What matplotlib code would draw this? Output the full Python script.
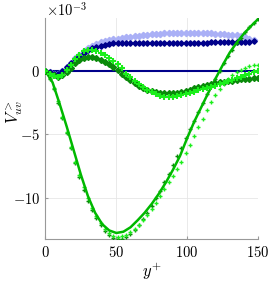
import matplotlib

matplotlib.use("Agg")
import matplotlib.pyplot as plt

plt.rcParams["font.family"] = "serif"
plt.rcParams["font.serif"] = ["cmr10", "DejaVu Serif"]
plt.rcParams["mathtext.fontset"] = "cm"
plt.rcParams["axes.unicode_minus"] = False
plt.rcParams["axes.formatter.use_mathtext"] = True

# values are in units of 1e-3
yp_blue = [0, 3, 6, 9, 12, 15, 18, 21, 24, 27, 30, 33, 36, 39, 42, 45, 48, 51, 54, 57,
           60, 63, 66, 69, 72, 75, 78, 81, 84, 87, 90, 93, 96, 99, 102, 105, 108, 111, 114, 117,
           120, 123, 126, 129, 132, 135, 138, 141, 144, 147]
yp = yp_blue + [150]
yp_line = [0, 5, 10, 15, 20, 25, 30, 35, 40, 45, 50, 55, 60, 65, 70, 75, 80, 85, 90, 95,
           100, 105, 110, 115, 120, 125, 130, 135, 140, 145, 150]

zero_x = [0, 150]
zero_v = [0, 0]

light_blue = [0, -0.1, -0.2, -0.2, 0.0, 0.3, 0.65, 1.0, 1.3, 1.58,
              1.8, 1.98, 2.13, 2.26, 2.36, 2.45, 2.52, 2.57, 2.63, 2.68,
              2.72, 2.77, 2.81, 2.85, 2.88, 2.9, 2.93, 2.96, 2.98, 2.99,
              3.0, 3.01, 3.02, 3.02, 3.01, 3.0, 3.0, 2.99, 2.98, 2.97,
              2.95, 2.92, 2.9, 2.88, 2.85, 2.82, 2.76, 2.68, 2.55, 2.42]
navy = [0, -0.1, -0.2, -0.2, 0.0, 0.3, 0.6, 0.95, 1.22, 1.45,
        1.65, 1.8, 1.93, 2.02, 2.08, 2.14, 2.18, 2.2, 2.22, 2.23,
        2.24, 2.25, 2.25, 2.25, 2.25, 2.25, 2.25, 2.25, 2.25, 2.25,
        2.25, 2.25, 2.25, 2.25, 2.25, 2.25, 2.25, 2.25, 2.25, 2.26,
        2.26, 2.27, 2.27, 2.28, 2.29, 2.3, 2.31, 2.32, 2.33, 2.34]

up_dark = [0, -0.2, -0.35, -0.45, -0.35, -0.1, 0.25, 0.6, 0.88, 1.05,
           1.12, 1.12, 1.03, 0.9, 0.73, 0.53, 0.3, 0.05, -0.2, -0.45,
           -0.7, -0.95, -1.17, -1.35, -1.5, -1.6, -1.68, -1.73, -1.76, -1.76,
           -1.75, -1.71, -1.65, -1.57, -1.46, -1.35, -1.26, -1.17, -1.08, -1.0,
           -0.95, -0.89, -0.84, -0.79, -0.75, -0.7, -0.66, -0.62, -0.59, -0.57, -0.55]
up_lime = [0, -0.2, -0.38, -0.45, -0.3, 0.05, 0.5, 0.95, 1.3, 1.55,
           1.65, 1.63, 1.55, 1.42, 1.25, 1.05, 0.82, 0.58, 0.25, -0.2,
           -0.5, -0.78, -1.02, -1.27, -1.5, -1.68, -1.83, -1.95, -2.04, -2.07,
           -2.05, -2.0, -1.92, -1.83, -1.72, -1.62, -1.52, -1.43, -1.34, -1.25,
           -1.15, -1.03, -0.92, -0.8, -0.68, -0.56, -0.44, -0.32, -0.2, -0.1, 0.0]

low_solid = [0, -0.9, -2.6, -4.4, -6.3, -8.2, -9.9, -11.2, -12.1, -12.6,
             -12.8, -12.7, -12.35, -11.8, -11.2, -10.5, -9.7, -8.8, -7.8, -6.7,
             -5.3, -4.0, -2.85, -1.7, -0.6, 0.45, 1.45, 2.25, 2.95, 3.55, 4.1]
low_dark = [0, -0.6, -1.45, -2.5, -3.7, -4.9, -6.1, -7.3, -8.4, -9.4,
            -10.25, -11.0, -11.65, -12.2, -12.65, -12.98, -13.2, -13.28, -13.27, -13.15,
            -12.92, -12.6, -12.2, -11.7, -11.2, -10.65, -10.05, -9.45, -8.8, -8.15,
            -7.45, -6.75, -6.05, -5.3, -4.6, -3.95, -3.25, -2.55, -1.85, -1.2,
            -0.6, 0.0, 0.6, 1.2, 1.7, 2.2, 2.65, 3.05, 3.45, 3.8, 4.1]
low_lime = [0, -0.55, -1.35, -2.4, -3.6, -4.8, -6.0, -7.15, -8.25, -9.2,
            -10.05, -10.8, -11.45, -12.0, -12.45, -12.8, -13.0, -13.08, -13.06, -12.95,
            -12.75, -12.48, -12.15, -11.78, -11.35, -10.9, -10.4, -9.9, -9.35, -8.8,
            -8.3, -7.75, -7.15, -6.5, -5.85, -5.15, -4.45, -3.75, -3.1, -2.45,
            -1.9, -1.4, -1.0, -0.65, -0.35, -0.1, 0.1, 0.25, 0.37, 0.45, 0.5]

NAVY = "#00008b"
LBLUE = "#aab0f6"
DGREEN = "#0a8a0a"
LIME = "#1aee1a"
MGREEN = "#00b800"

fig = plt.figure(figsize=(2.7, 2.82), dpi=100)
ax = fig.add_axes([0.1685, 0.1514, 0.787, 0.785])

ax.plot(zero_x, zero_v, color=NAVY, lw=1.5, zorder=2)
ax.plot(yp_blue, light_blue, ls="none", marker="D", ms=3.2, color=LBLUE, zorder=3)
ax.plot(yp_blue, navy, ls="none", marker="D", ms=2.8, color=NAVY, zorder=3)

ax.plot(yp, low_dark, ls="none", marker="+", ms=2.2, mew=1.0, color=DGREEN, zorder=4)
ax.plot(yp, low_lime, ls="none", marker="+", ms=2.2, mew=1.0, color=LIME, zorder=4)
ax.plot(yp_line, low_solid, color=MGREEN, lw=1.8, zorder=5)

ax.plot(yp, up_dark, ls="none", marker="D", ms=3.0, color=DGREEN, zorder=5)
ax.plot(yp, up_lime, ls="none", marker="+", ms=4, mew=1.5, color=LIME, zorder=6)

ax.set_xlim(0, 150)
ax.set_ylim(-13.3, 4.2)
ax.set_xticks([0, 50, 100, 150])
ax.set_yticks([-10, -5, 0])
ax.grid(True, color="#e6e6e6", lw=0.6, zorder=0)
ax.set_axisbelow(True)
for s in ("top", "right"):
    ax.spines[s].set_visible(False)
for s in ("left", "bottom"):
    ax.spines[s].set_color("#999999")
    ax.spines[s].set_linewidth(0.8)
ax.tick_params(direction="in", length=2.5, color="#999999", labelsize=10.5, pad=4)

ax.set_xlabel(r"$y^{+}$", fontsize=12, labelpad=1)
ax.set_ylabel(r"$V^{>}_{uv}$", fontsize=12)
ax.yaxis.set_label_coords(-0.095, 0.575)
fig.text(0.17, 0.965, r"$\times10^{-3}$", fontsize=10.5, ha="left", va="center")

fig.savefig("out.png", dpi=100)
